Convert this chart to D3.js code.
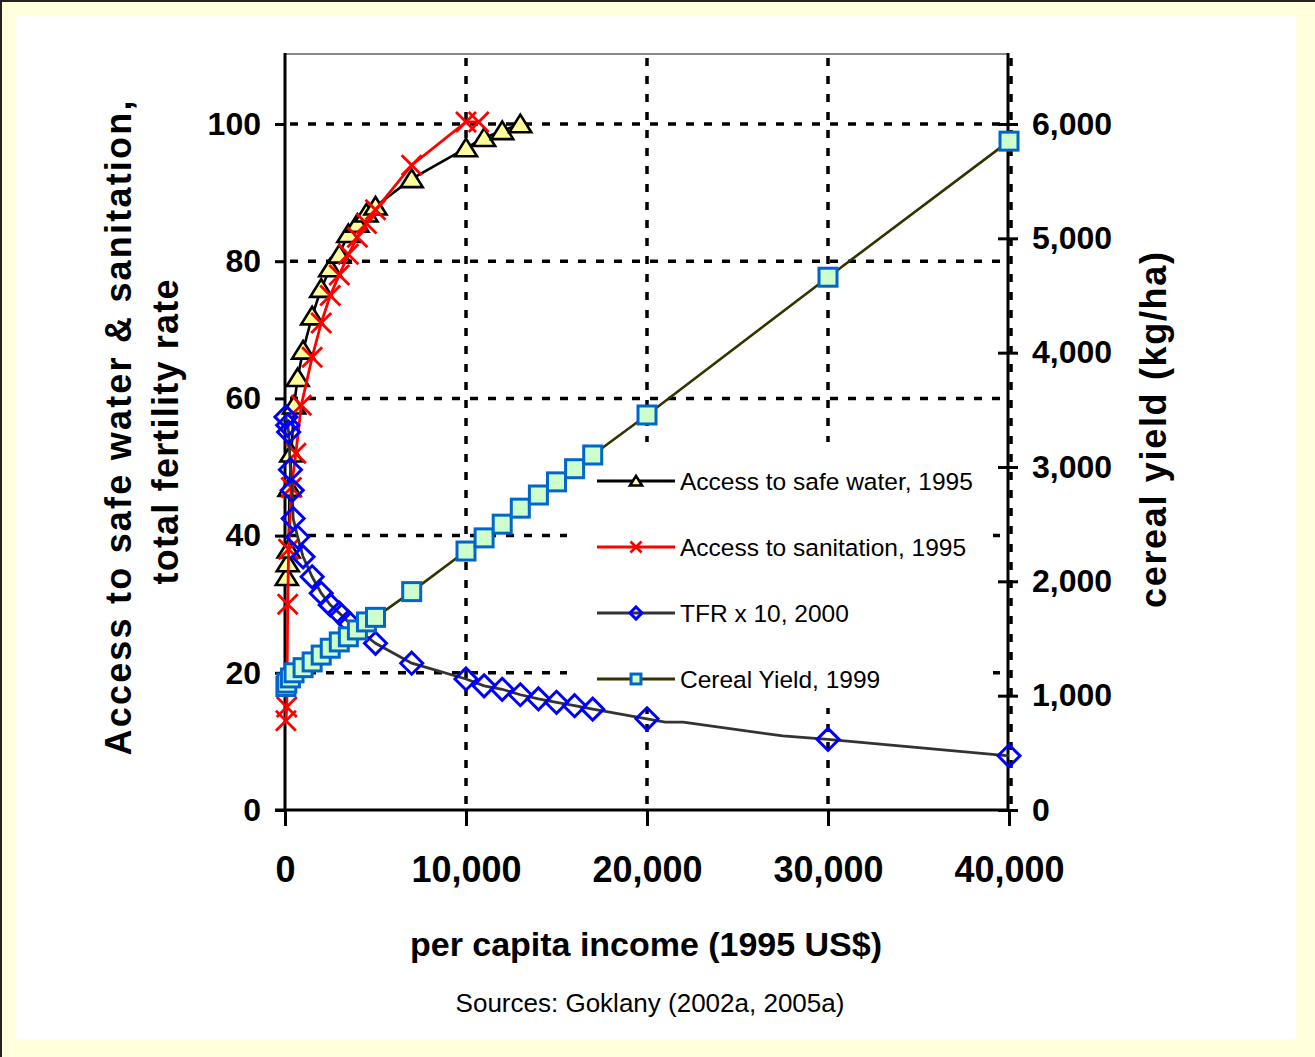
<!DOCTYPE html>
<html lang="en">
<head>
<meta charset="utf-8">
<script src="https://d3js.org/d3.v7.min.js"></script>
<style>
  body { margin: 0; background: #fff; }
  svg { display: block; font-family: "Liberation Sans", Arial, sans-serif; }
</style>
</head>
<body>
<div id="chart"></div>
<script>
// data: [per capita income (1995 US$), value]
const safeWater = [[100,34],[150,36],[200,38],[250,47],[350,52],[500,59],[700,63],[1000,67],[1500,72],
  [2000,76],[2500,79],[3000,81],[3500,84],[4000,85.5],[4500,87],[5000,88],[7000,92],[10000,96.5],
  [11000,98],[12000,99],[13000,100]];
const sanitation = [[50,13],[100,15],[150,30],[200,38],[350,47],[600,52],[900,59],[1500,66],[2000,71],
  [2500,75],[3000,78],[3500,81],[4000,83.5],[4500,85.5],[5000,87.5],[7000,94],[10000,100.3],[10700,100.3]];
const tfr = [[50,57.3],[150,56.1],[200,55.1],[300,49.6],[400,46.6],[450,42.5],[700,39.8],[1000,36.9],
  [1500,34],[2000,31.6],[2500,29.9],[3000,28.7],[3500,27.4],[5000,24.3],[7000,21.4],[10000,19.1],
  [11000,18.1],[12000,17.6],[13000,16.8],[14000,16.2],[15000,15.7],[16000,15.2],[17000,14.7],
  [20000,13.3],[30000,10.3],[40000,7.9]];
const tfrLineOnly = [[21000,12.8],[22000,12.8],[27500,10.8]];
const cerealYield = [[50,1080],[100,1110],[300,1155],[500,1200],[1000,1245],[1500,1295],[2000,1355],
  [2500,1415],[3000,1470],[3500,1515],[4000,1575],[4500,1645],[5000,1685],[7000,1910],[10000,2265],
  [11000,2380],[12000,2500],[13000,2640],[14000,2755],[15000,2870],[16000,2985],[17000,3105],
  [20000,3455],[30000,4660],[40000,5850]];

const xTicks = [0, 10000, 20000, 30000, 40000];
const leftTicks = [0, 20, 40, 60, 80, 100];
const rightTicks = [0, 1000, 2000, 3000, 4000, 5000, 6000];
const legendLabels = ["Access to safe water, 1995", "Access to sanitation, 1995", "TFR x 10, 2000", "Cereal Yield, 1999"];

const W = 1315, H = 1057;
const svg = d3.select("#chart").append("svg").attr("width", W).attr("height", H);

// frame
svg.append("rect").attr("width", W).attr("height", H).attr("fill", "#ffffdc");
svg.append("path").attr("d", "M1,1057 V1 H1315").attr("stroke", "#222").attr("stroke-width", 2).attr("fill", "none");
svg.append("rect").attr("x", 16).attr("y", 16).attr("width", 1280).attr("height", 1023).attr("fill", "#fff");

const x = d3.scaleLinear().domain([0, 40000]).range([285, 1009]);
const yL = d3.scaleLinear().domain([0, 100]).range([810, 124]);
const yR = d3.scaleLinear().domain([0, 6000]).range([810, 124]);
const plotTop = 54;

// grid
const grid = svg.append("g").attr("stroke", "#000").attr("stroke-width", 3.5).attr("stroke-dasharray", "8,10");
grid.selectAll("line.h").data(leftTicks.slice(1)).join("line")
  .attr("x1", x(0) + 5).attr("x2", x(40000)).attr("y1", d => yL(d)).attr("y2", d => yL(d));
grid.selectAll("line.v").data(xTicks.slice(1)).join("line")
  .attr("x1", d => x(d) + (d === 40000 ? 2 : 0)).attr("x2", d => x(d) + (d === 40000 ? 2 : 0))
  .attr("y1", plotTop + 4).attr("y2", 806);

// legend background (the series sit over it)
svg.append("rect").attr("x", 567).attr("y", 442).attr("width", 426).attr("height", 266).attr("fill", "#fff");

// axes
svg.append("line").attr("x1", x(0)).attr("x2", x(40000)).attr("y1", plotTop).attr("y2", plotTop)
  .attr("stroke", "#888").attr("stroke-width", 2);
svg.append("line").attr("x1", x(0)).attr("x2", x(0)).attr("y1", plotTop - 1).attr("y2", 810)
  .attr("stroke", "#000").attr("stroke-width", 3);
svg.append("line").attr("x1", x(40000) - 1).attr("x2", x(40000) - 1).attr("y1", plotTop - 1).attr("y2", 810)
  .attr("stroke", "#000").attr("stroke-width", 3);

const gx = svg.append("g").attr("transform", "translate(0,810)")
  .call(d3.axisBottom(x).tickValues(xTicks).tickFormat(d3.format(",")).tickSize(16).tickPadding(30));
const gl = svg.append("g").attr("transform", `translate(${x(0)},0)`)
  .call(d3.axisLeft(yL).tickValues(leftTicks).tickSize(10).tickPadding(14));
const gr = svg.append("g").attr("transform", `translate(${x(40000) - 1},0)`)
  .call(d3.axisRight(yR).tickValues(rightTicks).tickFormat(d3.format(",")).tickSize(10).tickPadding(14));
gr.selectAll(".tick line").attr("x1", -10);

[gx, gl, gr].forEach(g => {
  g.select(".domain").remove();
  g.selectAll(".tick line").attr("stroke", "#000").attr("stroke-width", 3);
  g.selectAll(".tick text").attr("fill", "#000").attr("font-family", "Liberation Sans, Arial, sans-serif")
    .attr("font-weight", "bold");
});
gx.selectAll(".tick text").attr("font-size", 36);
gl.selectAll(".tick text").attr("font-size", 32);
gr.selectAll(".tick text").attr("font-size", 32);
svg.append("line").attr("x1", 275).attr("x2", x(40000)).attr("y1", 810).attr("y2", 810)
  .attr("stroke", "#000").attr("stroke-width", 3);

// markers
function triangle(g, s) { g.append("path").attr("d", `M0,${-s * 0.85}L${s},${s * 0.75}L${-s},${s * 0.75}Z`)
  .attr("fill", "#ffff99").attr("stroke", "#000").attr("stroke-width", 2.6).attr("stroke-linejoin", "miter"); }
function cross(g, s) { g.append("path").attr("d", `M${-s},${-s}L${s},${s}M${-s},${s}L${s},${-s}`)
  .attr("stroke", "#ff0000").attr("stroke-width", 2.8).attr("fill", "none"); }
function diamond(g, s) { g.append("path").attr("d", `M0,${-s}L${s},0L0,${s}L${-s},0Z`)
  .attr("fill", "none").attr("stroke", "#0000ff").attr("stroke-width", 3); }
function square(g, s) { g.append("rect").attr("x", -s).attr("y", -s).attr("width", 2 * s).attr("height", 2 * s)
  .attr("fill", "#ccffcc").attr("stroke", "#0066cc").attr("stroke-width", 3); }

const series = [
  { data: safeWater, line: safeWater, y: yL, color: "#000", width: 2.6, mark: triangle, size: 11 },
  { data: sanitation, line: sanitation, y: yL, color: "#ff0000", width: 2.8, mark: cross, size: 10 },
  { data: tfr, line: tfr.concat(tfrLineOnly).sort((a, b) => a[0] - b[0]), y: yL, color: "#333", width: 2.8, mark: diamond, size: 11 },
  { data: cerealYield, line: cerealYield, y: yR, color: "#333300", width: 2.6, mark: square, size: 9 }
];

series.forEach(s => {
  svg.append("path").datum(s.line)
    .attr("d", d3.line().x(d => x(d[0])).y(d => s.y(d[1])))
    .attr("fill", "none").attr("stroke", s.color).attr("stroke-width", s.width);
  svg.append("g").selectAll("g").data(s.data).join("g")
    .attr("transform", d => `translate(${x(d[0])},${s.y(d[1])})`)
    .each(function () { s.mark(d3.select(this), s.size); });
});

// legend entries
const leg = svg.append("g");
legendLabels.forEach((label, i) => {
  const s = series[i];
  const yy = 481 + i * 66;
  leg.append("line").attr("x1", 597).attr("x2", 675).attr("y1", yy).attr("y2", yy)
    .attr("stroke", s.color).attr("stroke-width", s.width + 0.4);
  const m = leg.append("g").attr("transform", `translate(636,${yy})`);
  s.mark(m, s.size * 0.55);
  leg.append("text").attr("x", 680).attr("y", yy + 9).attr("font-size", 24.5).attr("fill", "#000").text(label);
});

// titles
svg.append("text").attr("transform", "translate(131,428) rotate(-90)").attr("text-anchor", "middle")
  .attr("font-size", 36).attr("font-weight", "bold").attr("textLength", 655).attr("lengthAdjust", "spacing")
  .text("Access to safe water & sanitation,");
svg.append("text").attr("transform", "translate(178,432) rotate(-90)").attr("text-anchor", "middle")
  .attr("font-size", 36).attr("font-weight", "bold").attr("textLength", 305).attr("lengthAdjust", "spacing")
  .text("total fertility rate");
svg.append("text").attr("transform", "translate(1166,430) rotate(-90)").attr("text-anchor", "middle")
  .attr("font-size", 36).attr("font-weight", "bold").attr("textLength", 356).attr("lengthAdjust", "spacing")
  .text("cereal yield (kg/ha)");
svg.append("text").attr("x", 646).attr("y", 956).attr("text-anchor", "middle")
  .attr("font-size", 34).attr("font-weight", "bold").attr("textLength", 472).attr("lengthAdjust", "spacing")
  .text("per capita income (1995 US$)");
svg.append("text").attr("x", 650).attr("y", 1012).attr("text-anchor", "middle")
  .attr("font-size", 26).attr("fill", "#000").text("Sources: Goklany (2002a, 2005a)");
</script>
</body>
</html>
